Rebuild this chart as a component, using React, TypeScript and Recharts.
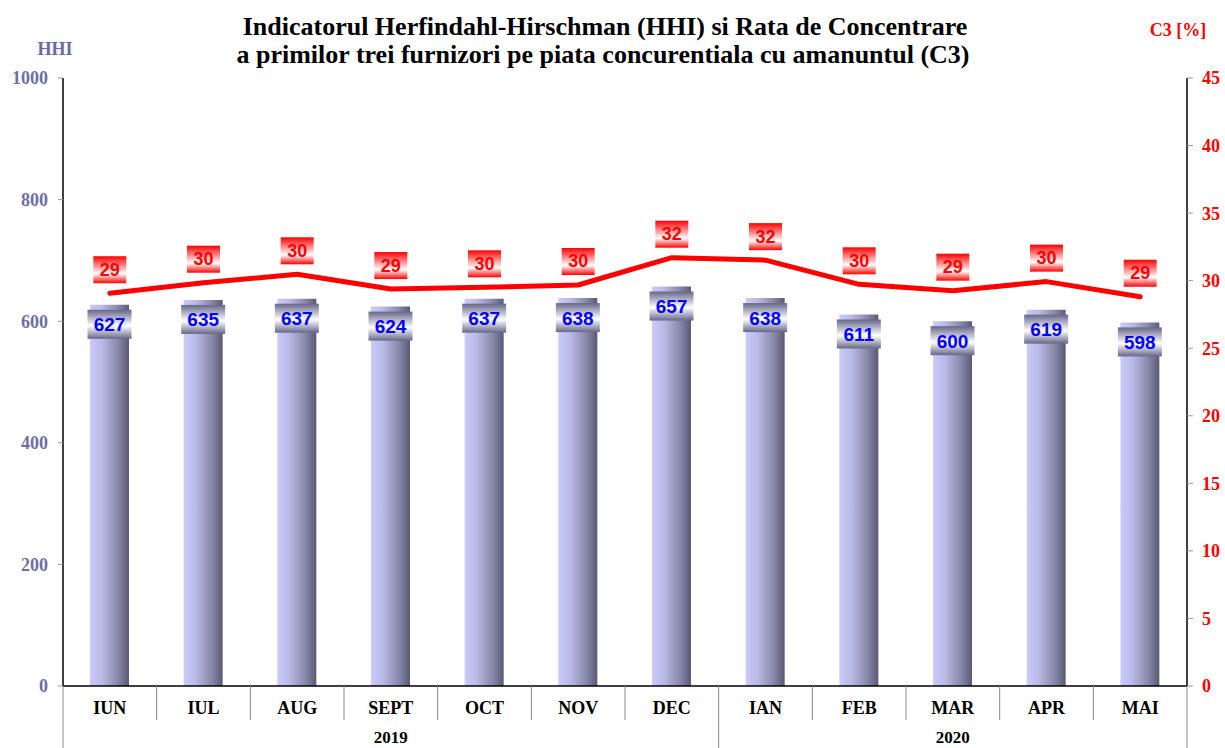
import React from 'react';
import { ComposedChart, Bar, Line, XAxis, YAxis, LabelList } from 'recharts';

const months = ['IUN', 'IUL', 'AUG', 'SEPT', 'OCT', 'NOV', 'DEC', 'IAN', 'FEB', 'MAR', 'APR', 'MAI'];
const years = ['2019', '2019', '2019', '2019', '2019', '2019', '2019', '2020', '2020', '2020', '2020', '2020'];
const hhiValues = [627, 635, 637, 624, 637, 638, 657, 638, 611, 600, 619, 598];
const c3Values = [29.07, 29.85, 30.47, 29.38, 29.51, 29.68, 31.7, 31.52, 29.73, 29.26, 29.93, 28.81];
const hhiTicks = [0, 200, 400, 600, 800, 1000];
const c3Ticks = [0, 5, 10, 15, 20, 25, 30, 35, 40, 45];

const data = months.map((m, i) => ({ month: m, year: years[i], hhi: hhiValues[i], c3: c3Values[i] }));

const WIDTH = 1225;
const HEIGHT = 748;
const LEFT_W = 63;
const RIGHT_W = 38;
const X_H = 62;
const TOP = 78;
const PLOT_BOTTOM = HEIGHT - X_H;
const BAND = (WIDTH - LEFT_W - RIGHT_W) / months.length;

const SERIF = '"Liberation Serif", "Times New Roman", serif';
const SANS = '"Liberation Sans", Arial, sans-serif';

const MonthTick = (props: any) => {
  const { x, payload } = props;
  const i = payload.index;
  const left = x - BAND / 2;
  const right = x + BAND / 2;
  const yr = years[i];
  const firstOfYear = i === 0 || years[i - 1] !== yr;
  const count = years.filter((y) => y === yr).length;
  const isLast = i === months.length - 1;
  return (
    <g>
      <line
        x1={left}
        x2={left}
        y1={PLOT_BOTTOM}
        y2={firstOfYear ? HEIGHT : PLOT_BOTTOM + 34}
        stroke="#888"
        strokeWidth={1}
      />
      {isLast && <line x1={right} x2={right} y1={PLOT_BOTTOM} y2={HEIGHT} stroke="#888" strokeWidth={1} />}
      <text
        x={x}
        y={PLOT_BOTTOM + 28}
        textAnchor="middle"
        fontFamily={SERIF}
        fontWeight="bold"
        fontSize={18}
        fill="#000"
      >
        {payload.value}
      </text>
      {firstOfYear && (
        <text
          x={left + (count * BAND) / 2}
          y={PLOT_BOTTOM + 57}
          textAnchor="middle"
          fontFamily={SERIF}
          fontWeight="bold"
          fontSize={17}
          fill="#000"
        >
          {yr}
        </text>
      )}
    </g>
  );
};

const BarLabel = (props: any) => {
  const { x, y, width, value } = props;
  const cx = x + width / 2;
  const w = 44;
  const h = 29;
  const top = y + 5;
  return (
    <g>
      <rect x={cx - w / 2} y={top} width={w} height={h} fill="url(#boxBlue)" />
      <text
        x={cx}
        y={top + h / 2 + 7}
        textAnchor="middle"
        fontFamily={SANS}
        fontWeight="bold"
        fontSize={19}
        fill="#0000ff"
      >
        {value}
      </text>
    </g>
  );
};

const LineLabel = (props: any) => {
  const { x, y, value } = props;
  const w = 33;
  const h = 27;
  const top = y - 37;
  return (
    <g>
      <rect x={x - w / 2} y={top} width={w} height={h} fill="url(#boxRed)" />
      <text
        x={x}
        y={top + h / 2 + 6}
        textAnchor="middle"
        fontFamily={SANS}
        fontWeight="bold"
        fontSize={18}
        fill="#ff0000"
      >
        {Math.round(value)}
      </text>
    </g>
  );
};

export default function App() {
  return (
    <div style={{ position: 'absolute', left: 0, top: 0, width: WIDTH, height: HEIGHT, background: '#fff' }}>
      <ComposedChart width={WIDTH} height={HEIGHT} data={data} margin={{ top: TOP, right: 0, bottom: 0, left: 0 }}>
        <defs>
          <linearGradient id="barGrad" x1="0" y1="0" x2="1" y2="0">
            <stop offset="0%" stopColor="#cacafc" />
            <stop offset="30%" stopColor="#babae6" />
            <stop offset="70%" stopColor="#8a8aac" />
            <stop offset="100%" stopColor="#5a5a76" />
          </linearGradient>
          <linearGradient id="boxBlue" x1="0" y1="0" x2="0" y2="1">
            <stop offset="0%" stopColor="#66668a" />
            <stop offset="55%" stopColor="#ffffff" />
            <stop offset="100%" stopColor="#66668a" />
          </linearGradient>
          <linearGradient id="boxRed" x1="0" y1="0" x2="0" y2="1">
            <stop offset="0%" stopColor="#ff0000" />
            <stop offset="65%" stopColor="#ffffff" />
            <stop offset="100%" stopColor="#ff0000" />
          </linearGradient>
        </defs>
        <XAxis
          dataKey="month"
          height={X_H}
          axisLine={{ stroke: '#000', strokeWidth: 1.5 }}
          tickLine={false}
          tick={<MonthTick />}
          interval={0}
        />
        <YAxis
          yAxisId="left"
          orientation="left"
          width={LEFT_W}
          domain={[0, 1000]}
          ticks={hhiTicks}
          allowDataOverflow
          axisLine={{ stroke: '#000', strokeWidth: 1.5 }}
          tickLine={{ stroke: '#999' }}
          tickSize={5}
          tickMargin={10}
          tick={{ fill: '#6f6fa3', fontFamily: SERIF, fontWeight: 'bold', fontSize: 18 }}
        />
        <YAxis
          yAxisId="right"
          orientation="right"
          width={RIGHT_W}
          domain={[0, 45]}
          ticks={c3Ticks}
          allowDataOverflow
          axisLine={{ stroke: '#000', strokeWidth: 1.5 }}
          tickLine={{ stroke: '#999' }}
          tickSize={6}
          tickMargin={9}
          tick={{ fill: '#ff0000', fontFamily: SERIF, fontWeight: 'bold', fontSize: 18 }}
        />
        <Bar yAxisId="left" dataKey="hhi" barSize={39} fill="url(#barGrad)" isAnimationActive={false}>
          <LabelList dataKey="hhi" content={<BarLabel />} />
        </Bar>
        <Line
          yAxisId="right"
          dataKey="c3"
          stroke="#ff0000"
          strokeWidth={5}
          strokeLinecap="round"
          strokeLinejoin="round"
          dot={false}
          activeDot={false}
          isAnimationActive={false}
        >
          <LabelList dataKey="c3" content={<LineLabel />} />
        </Line>
      </ComposedChart>
      <svg
        width={WIDTH}
        height={HEIGHT}
        style={{ position: 'absolute', left: 0, top: 0, pointerEvents: 'none' }}
      >
        <text x={605} y={35} textAnchor="middle" fontFamily={SERIF} fontWeight="bold" fontSize={26} fill="#000">
          Indicatorul Herfindahl-Hirschman (HHI) si Rata de Concentrare
        </text>
        <text x={603} y={63} textAnchor="middle" fontFamily={SERIF} fontWeight="bold" fontSize={26} fill="#000">
          a primilor trei furnizori pe piata concurentiala cu amanuntul (C3)
        </text>
        <text x={55} y={55} textAnchor="middle" fontFamily={SERIF} fontWeight="bold" fontSize={18} fill="#6a6aa6">
          HHI
        </text>
        <text x={1178} y={36} textAnchor="middle" fontFamily={SERIF} fontWeight="bold" fontSize={18} fill="#ff0000">
          C3 [%]
        </text>
      </svg>
    </div>
  );
}
